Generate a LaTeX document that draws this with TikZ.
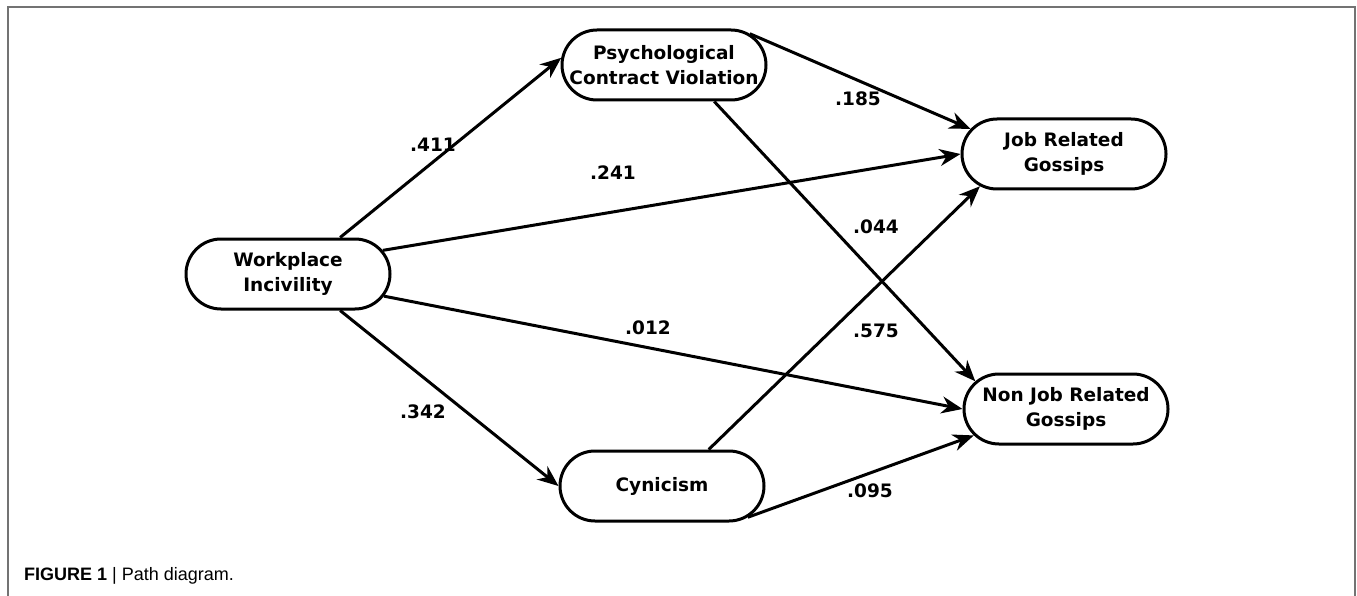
\documentclass[tikz,border=0pt]{standalone}
\usepackage{fontspec}
\setmainfont{Liberation Sans}
\newfontfamily\pathfont{DejaVu Sans}
\usetikzlibrary{shapes.misc, arrows.meta, positioning}

\begin{document}
\begin{tikzpicture}[
			x=1pt, y=-1pt,
			var/.style={rounded rectangle, draw, line width=3pt, align=center, minimum width=208pt, minimum height=70pt, inner sep=2pt, font=\pathfont\bfseries\fontsize{18.5}{25}\selectfont},
			coef/.style={font=\pathfont\bfseries\fontsize{18.5}{20}\selectfont, inner sep=1pt},
			arrow/.style={-{Stealth[length=21pt, width=17pt]}, line width=3pt}
			]
			\useasboundingbox (0,0) rectangle (1357,596);
			
			% Frame and caption
			\draw [black!55, line width=2pt] (8,596) -- (8,7) -- (1355,7) -- (1355,596);
			\node (caption) [anchor=base west, font=\fontsize{18}{22}\selectfont, inner sep=0pt] at (24,580) {\textbf{FIGURE 1} | Path diagram.};
			
			% Nodes
			\node (wi) [var] at (288,274) {Workplace\\Incivility};
			\node (pcv) [var] at (664,65) {Psychological\\Contract Violation};
			\node (jrg) [var] at (1064,154) {Job Related\\Gossips};
			\node (njrg) [var] at (1066,409) {Non Job Related\\Gossips};
			\node (cyn) [var] at (662,486) {Cynicism};
			
			% Connections
			\draw [arrow] (wi.35) -- (pcv.176);
			\draw [arrow] (wi.14) -- (jrg.180);
			\draw [arrow] (wi.-13) -- (njrg.180);
			\draw [arrow] (wi.-35) -- (cyn.180);
			\draw [arrow] (pcv.20) -- (jrg.165);
			\draw [arrow] (pcv.-36) -- (njrg.163);
			\draw [arrow] (cyn.38) -- (jrg.-159);
			\draw [arrow] (cyn.-20) -- (njrg.-164);
			
			% Coefficients
			\node (c411) [coef] at (433,145) {.411};
			\node (c241) [coef] at (613,173) {.241};
			\node (c012) [coef] at (648,328) {.012};
			\node (c342) [coef] at (423,412) {.342};
			\node (c185) [coef] at (858,99) {.185};
			\node (c044) [coef] at (876,227) {.044};
			\node (c575) [coef] at (876,331) {.575};
			\node (c095) [coef] at (870,491) {.095};
			
		\end{tikzpicture}
\end{document}
